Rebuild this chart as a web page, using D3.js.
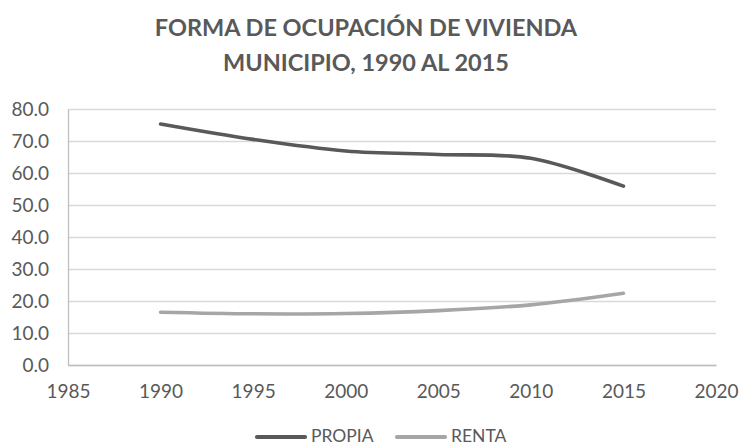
<!DOCTYPE html>
<html>
<head>
<meta charset="utf-8">
<script src="https://cdn.jsdelivr.net/npm/d3@7/dist/d3.min.js"></script>
<style>
  html, body { margin: 0; padding: 0; background: #ffffff; }
  svg { display: block; }
  text { font-family: Lato, "Liberation Sans", sans-serif; fill: #595959; }
</style>
</head>
<body>
<svg id="chart" width="742" height="447"></svg>
<script>
// Housing tenure in the municipality, share of dwellings (%)
const years = [1990, 1995, 2000, 2005, 2010, 2015];
const propia = [75.3, 70.5, 66.9, 65.8, 64.6, 55.9];
const renta = [16.5, 16.0, 16.1, 17.0, 18.8, 22.4];
const yTicks = [0, 10, 20, 30, 40, 50, 60, 70, 80];
const xTicks = [1985, 1990, 1995, 2000, 2005, 2010, 2015, 2020];
const titleLines = ["FORMA DE OCUPACIÓN DE VIVIENDA", "MUNICIPIO, 1990 AL 2015"];
const seriesNames = ["PROPIA", "RENTA"];
const seriesColors = ["#595959", "#a6a6a6"];

const svg = d3.select("#chart");
const plot = { left: 68, right: 716, top: 109, bottom: 365 };

const x = d3.scaleLinear().domain([1985, 2020]).range([plot.left, plot.right]);
const y = d3.scaleLinear().domain([0, 80]).range([plot.bottom, plot.top]);

// Title
svg.append("g").selectAll("text")
  .data(titleLines)
  .join("text")
  .attr("x", 366)
  .attr("y", (d, i) => 36 + i * 35)
  .attr("text-anchor", "middle")
  .attr("font-size", 23.5)
  .attr("font-weight", 700)
  .text(d => d);

// Horizontal gridlines
svg.append("g")
  .attr("transform", `translate(${plot.left},0)`)
  .call(d3.axisLeft(y).tickValues(yTicks).tickSize(-(plot.right - plot.left)).tickFormat(""))
  .call(g => g.select(".domain").remove())
  .call(g => g.selectAll(".tick line").attr("stroke", "#d9d9d9").attr("stroke-width", 1.3));

// Y axis line and labels
svg.append("g")
  .attr("transform", `translate(${plot.left},0)`)
  .call(d3.axisLeft(y).tickValues(yTicks).tickSize(0).tickPadding(19).tickFormat(d3.format(".1f")))
  .call(g => g.select(".domain").attr("stroke", "#bfbfbf").attr("stroke-width", 1.3))
  .call(g => g.selectAll("text").attr("font-size", 19).attr("fill", "#595959")
    .attr("font-family", "Lato, 'Liberation Sans', sans-serif"));

// X axis line and labels
svg.append("g")
  .attr("transform", `translate(0,${plot.bottom})`)
  .call(d3.axisBottom(x).tickValues(xTicks).tickSize(0).tickPadding(20).tickFormat(d3.format("d")))
  .call(g => g.select(".domain").attr("stroke", "#bfbfbf").attr("stroke-width", 1.3))
  .call(g => g.selectAll("text").attr("font-size", 19).attr("fill", "#595959")
    .attr("font-family", "Lato, 'Liberation Sans', sans-serif"));

// Smoothed series lines
const line = d3.line()
  .x((d, i) => x(years[i]))
  .y(d => y(d))
  .curve(d3.curveCatmullRom.alpha(0.5));

[propia, renta].forEach((vals, k) => {
  svg.append("path")
    .datum(vals)
    .attr("fill", "none")
    .attr("stroke", seriesColors[k])
    .attr("stroke-width", 3.6)
    .attr("stroke-linecap", "round")
    .attr("d", line);
});

// Legend
const legendItems = [{ x: 257 }, { x: 397 }];
const legend = svg.append("g");
seriesNames.forEach((name, k) => {
  const lx = legendItems[k].x;
  legend.append("line")
    .attr("x1", lx).attr("x2", lx + 48)
    .attr("y1", 437).attr("y2", 437)
    .attr("stroke", seriesColors[k])
    .attr("stroke-width", 4.2)
    .attr("stroke-linecap", "round");
  legend.append("text")
    .attr("x", lx + 54)
    .attr("y", 442)
    .attr("font-size", 17.5)
    .text(name);
});
</script>
</body>
</html>
